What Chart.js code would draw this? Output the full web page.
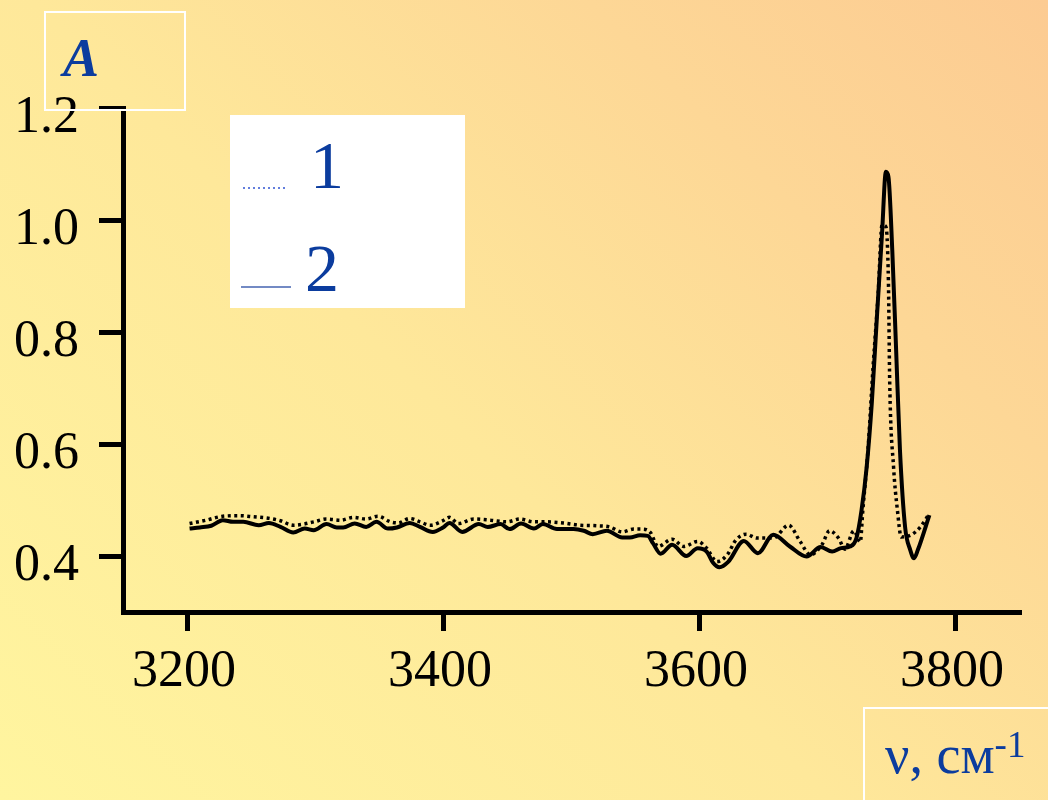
<!DOCTYPE html>
<html>
<head>
<meta charset="utf-8">
<script src="https://cdn.jsdelivr.net/npm/chart.js@4"></script>
<style>
    html, body {
        margin: 0;
        padding: 0;
        width: 1048px;
        height: 800px;
        overflow: hidden;
        background: linear-gradient(45deg, #fff59f 0%, #fee89a 45%, #fdd796 75%, #fccb92 100%);
    }
    canvas { display: block; }
</style>
</head>
<body>
<canvas id="spectrumChart" width="1048" height="800"></canvas>
<script>
// =====================================================
// DATA
// =====================================================
const xTicks = [3200, 3400, 3600, 3800];
const yTicks = [0.4, 0.6, 0.8, 1.0, 1.2];

// spectrum 1 (dotted)
const wave1 = [3202, 3215, 3228, 3241, 3252, 3265, 3273, 3283, 3291, 3299,
    3309, 3320, 3330, 3340, 3349, 3359, 3365, 3374, 3382, 3390,
    3400, 3405, 3412, 3424, 3437, 3450, 3460, 3471, 3481, 3494,
    3507, 3520, 3530, 3540, 3549, 3556, 3562, 3568, 3579, 3588,
    3599, 3606, 3614, 3622, 3629, 3637, 3645, 3658, 3670, 3679,
    3687, 3696, 3702, 3709, 3714, 3721, 3726, 3728, 3732, 3736,
    3740, 3743, 3746, 3748, 3749, 3752, 3755, 3758, 3766, 3773, 3780];
const absorb1 = [0.458, 0.464, 0.471, 0.472, 0.470, 0.467, 0.463, 0.455, 0.457, 0.461,
    0.466, 0.464, 0.469, 0.466, 0.471, 0.461, 0.459, 0.467, 0.461, 0.455,
    0.463, 0.469, 0.458, 0.466, 0.464, 0.461, 0.466, 0.461, 0.461, 0.459,
    0.455, 0.454, 0.452, 0.443, 0.448, 0.448, 0.442, 0.417, 0.430, 0.417,
    0.426, 0.414, 0.390, 0.402, 0.429, 0.439, 0.432, 0.432, 0.455, 0.426,
    0.402, 0.420, 0.445, 0.432, 0.412, 0.445, 0.425, 0.482, 0.589, 0.738,
    0.869, 0.991, 0.988, 0.888, 0.709, 0.559, 0.482, 0.434, 0.438, 0.452, 0.476];

// spectrum 2 (solid)
const wave2 = [3202, 3210, 3219, 3228, 3236, 3244, 3256, 3264, 3273, 3283,
    3292, 3299, 3309, 3317, 3322, 3331, 3340, 3348, 3357, 3364,
    3374, 3382, 3392, 3400, 3405, 3415, 3428, 3435, 3445, 3452,
    3461, 3471, 3478, 3489, 3502, 3510, 3517, 3528, 3540, 3546,
    3554, 3560, 3564, 3570, 3579, 3590, 3599, 3606, 3611, 3616,
    3623, 3635, 3646, 3658, 3671, 3684, 3695, 3704, 3711, 3718,
    3723, 3727, 3731, 3735, 3739, 3743, 3746, 3748, 3751, 3754,
    3757, 3761, 3765, 3768, 3771, 3780];
const absorb2 = [0.449, 0.451, 0.454, 0.464, 0.461, 0.461, 0.455, 0.459, 0.452, 0.442,
    0.449, 0.446, 0.457, 0.451, 0.451, 0.458, 0.452, 0.461, 0.449, 0.451,
    0.459, 0.452, 0.443, 0.451, 0.459, 0.443, 0.457, 0.452, 0.457, 0.448,
    0.458, 0.449, 0.457, 0.448, 0.448, 0.445, 0.439, 0.445, 0.433, 0.433,
    0.437, 0.436, 0.423, 0.404, 0.420, 0.400, 0.414, 0.408, 0.388, 0.380,
    0.390, 0.427, 0.405, 0.438, 0.417, 0.399, 0.416, 0.408, 0.414, 0.417,
    0.432, 0.482, 0.559, 0.673, 0.827, 0.976, 1.086, 1.077, 0.946, 0.768,
    0.589, 0.452, 0.411, 0.396, 0.411, 0.473];

const seriesLabels = ['1', '2'];

// =====================================================
// HELPERS
// =====================================================
function toPoints(xs, ys) {
    return xs.map(function (x, i) { return { x: x, y: ys[i] }; });
}

const serif = '"Liberation Serif", "Times New Roman", serif';
const blueText = '#0b3c9e';

// frames, axis titles and legend painted over the canvas
const decorPlugin = {
    id: 'decor',
    afterDraw: function (chart) {
        const ctx = chart.ctx;
        ctx.save();

        // y title box
        ctx.strokeStyle = '#ffffff';
        ctx.lineWidth = 2;
        ctx.strokeRect(45, 12, 140, 98);
        ctx.fillStyle = blueText;
        ctx.font = 'italic bold 54px ' + serif;
        ctx.textBaseline = 'alphabetic';
        ctx.fillText('A', 63, 76);

        // x title box
        ctx.strokeRect(864, 708, 220, 120);
        ctx.font = '54px ' + serif;
        ctx.fillText('\u03bd, \u0441\u043c', 885, 773);
        const w = ctx.measureText('\u03bd, \u0441\u043c').width;
        ctx.font = '37px ' + serif;
        ctx.fillText('-1', 885 + w, 757);

        // legend
        ctx.fillStyle = '#ffffff';
        ctx.fillRect(230, 115, 235, 193);

        const rows = [
            { y: 188, dash: [2, 3], color: '#3154d2', x0: 243, x1: 288, tx: 310 },
            { y: 287, dash: [], color: '#4563b0', x0: 241, x1: 291, tx: 305 }
        ];
        chart.data.datasets.forEach(function (ds, i) {
            const r = rows[i];
            ctx.beginPath();
            ctx.setLineDash(r.dash);
            ctx.strokeStyle = r.color;
            ctx.lineWidth = 1.5;
            ctx.moveTo(r.x0, r.y);
            ctx.lineTo(r.x1, r.y);
            ctx.stroke();
            ctx.setLineDash([]);
            ctx.fillStyle = blueText;
            ctx.font = '68px ' + serif;
            ctx.fillText(ds.label, r.tx, r.y + (i === 0 ? 0 : 4));
        });

        ctx.restore();
    }
};

// =====================================================
// SPECTRA (LINE)
// =====================================================
let spectrumCanvas = document.getElementById('spectrumChart');

new Chart(spectrumCanvas, {
    type: 'line',
    data: {
        datasets: [
            {
                label: seriesLabels[0],
                data: toPoints(wave1, absorb1),
                borderColor: '#000000',
                borderWidth: 3.5,
                borderDash: [3, 3.5],
                pointRadius: 0,
                cubicInterpolationMode: 'monotone',
                fill: false
            },
            {
                label: seriesLabels[1],
                data: toPoints(wave2, absorb2),
                borderColor: '#000000',
                borderWidth: 4,
                pointRadius: 0,
                cubicInterpolationMode: 'monotone',
                fill: false
            }
        ]
    },
    options: {
        responsive: false,
        animation: false,
        devicePixelRatio: 1,
        layout: {
            padding: { left: 0, top: 108, right: 29, bottom: 0 }
        },
        plugins: {
            legend: { display: false },
            tooltip: { enabled: false }
        },
        scales: {
            x: {
                type: 'linear',
                min: 3150,
                max: 3850,
                afterBuildTicks: function (scale) {
                    scale.ticks = xTicks.map(function (v) { return { value: v }; });
                },
                afterFit: function (scale) { scale.height = 188; },
                grid: {
                    drawOnChartArea: false,
                    drawTicks: true,
                    tickLength: 19,
                    lineWidth: 5,
                    color: '#000000'
                },
                border: { display: true, width: 5, color: '#000000' },
                ticks: {
                    color: '#000000',
                    font: { family: serif, size: 52 },
                    padding: 10,
                    labelOffset: -3,
                    maxRotation: 0,
                    callback: function (v) { return String(v); }
                }
            },
            y: {
                type: 'linear',
                min: 0.3,
                max: 1.2,
                afterBuildTicks: function (scale) {
                    scale.ticks = yTicks.map(function (v) { return { value: v }; });
                },
                afterFit: function (scale) { scale.width = 123; },
                grid: {
                    drawOnChartArea: false,
                    drawTicks: true,
                    tickLength: 24,
                    lineWidth: 5,
                    color: '#000000'
                },
                border: { display: true, width: 5, color: '#000000' },
                ticks: {
                    color: '#000000',
                    font: { family: serif, size: 52 },
                    padding: 20,
                    labelOffset: 10,
                    callback: function (v) { return v.toFixed(1); }
                }
            }
        }
    },
    plugins: [decorPlugin]
});
</script>
</body>
</html>
